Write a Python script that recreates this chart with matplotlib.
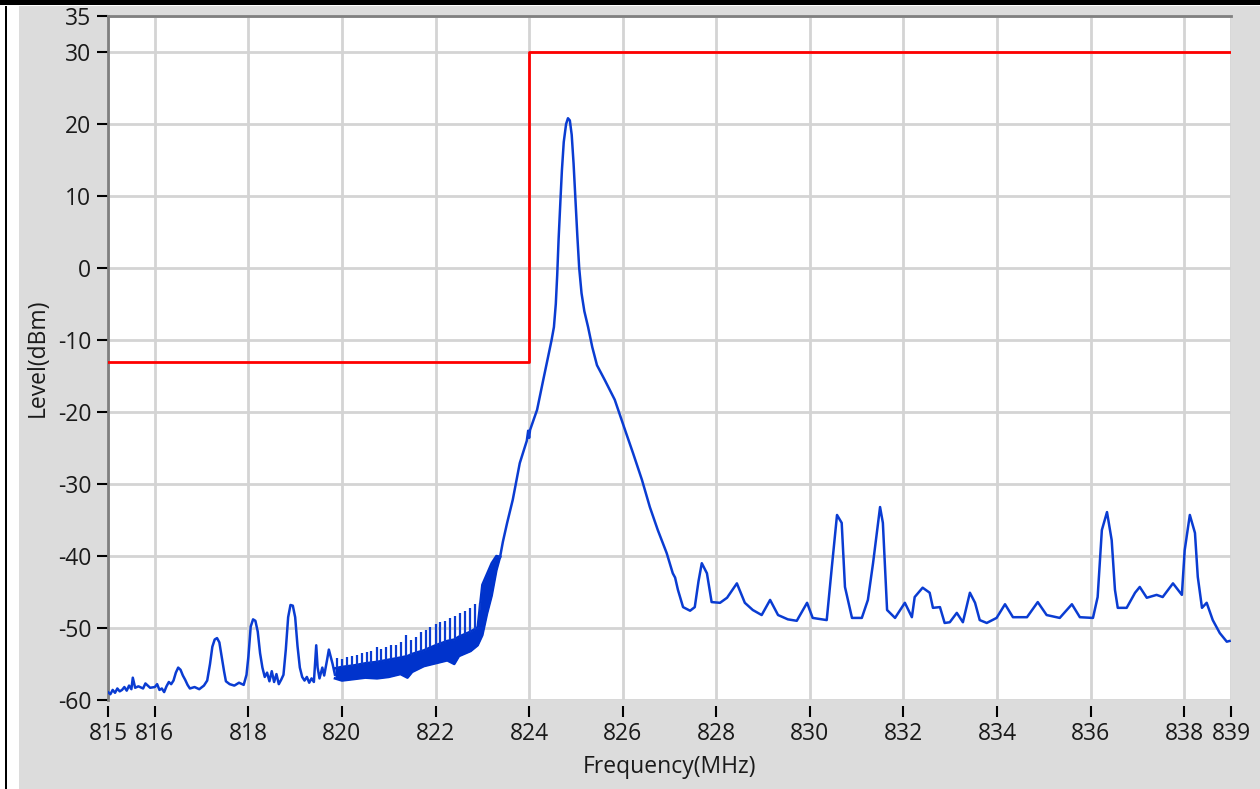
import matplotlib
matplotlib.use("Agg")
import numpy as np
import matplotlib.pyplot as plt
from matplotlib.patches import Rectangle

# limit mask (red)
mask_f = [815, 824, 839]
mask_l = [-13, 30, 30]

# trace left of the comb region (MHz, dBm)
left_f = [815.00, 815.05, 815.10, 815.15, 815.20, 815.25, 815.30, 815.35, 815.40, 815.45,
          815.50, 815.53, 815.58, 815.65, 815.75, 815.80, 815.90, 816.00, 816.05, 816.10,
          816.15, 816.20, 816.25, 816.30, 816.35, 816.40, 816.45, 816.50, 816.55, 816.60,
          816.65, 816.70, 816.75, 816.85, 816.95, 817.05, 817.12, 817.18, 817.23, 817.28,
          817.33, 817.38, 817.43, 817.48, 817.52, 817.60, 817.70, 817.80, 817.90, 817.96,
          818.00, 818.05, 818.10, 818.15, 818.20, 818.25, 818.30, 818.35, 818.40, 818.45,
          818.50, 818.55, 818.60, 818.65, 818.70, 818.75, 818.80, 818.85, 818.90, 818.95,
          819.00, 819.05, 819.10, 819.15, 819.20, 819.25, 819.30, 819.35, 819.40, 819.45,
          819.48, 819.52, 819.58, 819.62, 819.68, 819.72, 819.76, 819.80, 819.85]
left_l = [-58.9, -59.2, -58.6, -59.0, -58.4, -58.8, -58.6, -58.2, -58.7, -58.0,
          -58.5, -56.9, -58.3, -58.1, -58.4, -57.7, -58.3, -58.2, -57.8, -58.6,
          -58.4, -58.9, -58.1, -57.5, -57.8, -57.3, -56.2, -55.5, -55.8, -56.6,
          -57.2, -57.9, -58.4, -58.2, -58.5, -58.0, -57.3, -55.0, -52.6, -51.6,
          -51.4, -52.0, -54.0, -56.0, -57.4, -57.8, -58.0, -57.6, -57.9, -56.5,
          -54.0, -49.8, -48.8, -49.0, -50.5, -53.5, -55.5, -56.8, -56.2, -57.4,
          -56.0, -57.5, -56.4, -57.8, -57.2, -56.5, -53.0, -48.5, -46.8, -46.9,
          -48.5, -52.5, -55.5, -56.8, -57.3, -56.8, -57.6, -57.0, -57.5, -52.4,
          -55.5, -57.0, -55.5, -56.6, -54.5, -53.0, -54.0, -55.0, -56.5]

# dense comb band (bottom / top of the filled area)
band_f = [819.85, 820.0, 820.25, 820.5, 820.75, 821.0, 821.25, 821.4, 821.5, 821.75,
          822.0, 822.25, 822.4, 822.5, 822.75, 822.9, 823.0, 823.1, 823.2, 823.3, 823.38]
band_lo = [-57.0, -57.3, -57.1, -56.9, -57.0, -56.8, -56.4, -56.9, -56.1, -55.3,
           -54.9, -54.5, -55.0, -53.9, -53.2, -52.4, -51.0, -48.0, -45.5, -42.0, -40.1]
band_hi = [-55.6, -55.4, -55.2, -54.9, -54.7, -54.4, -54.1, -53.9, -53.6, -53.1,
           -52.4, -51.8, -51.6, -51.2, -50.5, -49.9, -44.0, -42.5, -41.0, -40.0, -40.1]

# comb spikes
comb_f = [819.90, 820.00, 820.11, 820.21, 820.32, 820.42, 820.53, 820.63, 820.74, 820.84,
          820.95, 821.05, 821.16, 821.26, 821.37, 821.47, 821.58, 821.68, 821.79, 821.89,
          822.00, 822.10, 822.21, 822.31, 822.42, 822.52, 822.63, 822.73, 822.84, 822.94]
comb_top = [-54.2, -54.3, -54.0, -53.9, -53.7, -53.5, -53.3, -53.2, -52.6, -52.9,
            -52.6, -52.4, -52.3, -52.0, -51.0, -51.6, -51.2, -50.6, -50.3, -49.8,
            -49.4, -49.2, -49.0, -48.6, -48.4, -47.9, -47.7, -47.2, -46.6, -46.5]

# trace right of the comb region
right_f = [823.38, 823.44, 823.53, 823.65, 823.80, 823.95, 823.98, 824.00, 824.02, 824.10,
           824.17, 824.30, 824.40, 824.48, 824.53, 824.57, 824.60, 824.63, 824.67, 824.70,
           824.74, 824.79, 824.83, 824.87, 824.91, 824.95, 824.99, 825.03, 825.07, 825.12,
           825.18, 825.26, 825.35, 825.45, 825.62, 825.83, 826.05, 826.22, 826.41, 826.58,
           826.75, 826.94, 827.07, 827.12, 827.18, 827.29, 827.44, 827.54, 827.62, 827.69,
           827.80, 827.90, 828.08, 828.23, 828.44, 828.61, 828.78, 828.97, 829.15, 829.32,
           829.53, 829.72, 829.94, 830.06, 830.36, 830.47, 830.58, 830.68, 830.75, 830.90,
           831.11, 831.24, 831.35, 831.50, 831.56, 831.65, 831.82, 832.03, 832.18, 832.24,
           832.41, 832.56, 832.63, 832.78, 832.88, 832.99, 833.14, 833.27, 833.42, 833.53,
           833.63, 833.78, 833.99, 834.17, 834.34, 834.64, 834.87, 835.06, 835.34, 835.60,
           835.77, 836.05, 836.15, 836.24, 836.35, 836.45, 836.52, 836.58, 836.77, 836.95,
           837.05, 837.20, 837.41, 837.54, 837.76, 837.95, 838.01, 838.12, 838.23, 838.29,
           838.38, 838.48, 838.61, 838.76, 838.91, 838.97]
right_l = [-40.1, -38.0, -35.4, -32.2, -27.1, -24.0, -22.6, -23.6, -22.5, -21.0,
           -19.7, -15.6, -12.5, -10.0, -8.2, -5.0, -1.0, 4.0, 9.5, 13.5,
           17.5, 20.0, 20.8, 20.5, 18.5, 14.5, 9.5, 4.5, 0.0, -3.5,
           -6.0, -8.2, -11.0, -13.5, -15.6, -18.3, -22.5, -25.7, -29.4, -33.2,
           -36.4, -39.6, -42.4, -43.0, -44.7, -47.1, -47.6, -47.1, -43.5, -41.0,
           -42.4, -46.4, -46.5, -45.8, -43.8, -46.5, -47.5, -48.2, -46.1, -48.2,
           -48.8, -49.0, -46.5, -48.6, -48.9, -41.5, -34.3, -35.4, -44.3, -48.6,
           -48.6, -46.1, -41.0, -33.2, -35.4, -47.5, -48.6, -46.5, -48.5, -45.7,
           -44.4, -45.1, -47.2, -47.1, -49.3, -49.2, -47.9, -49.2, -45.1, -46.5,
           -48.9, -49.3, -48.6, -46.7, -48.5, -48.5, -46.4, -48.2, -48.6, -46.7,
           -48.5, -48.6, -45.7, -36.4, -33.9, -37.8, -44.7, -47.2, -47.2, -45.1,
           -44.3, -45.8, -45.4, -45.7, -43.8, -45.4, -39.2, -34.3, -36.8, -42.9,
           -47.2, -46.5, -48.9, -50.7, -51.9, -51.8]

x_ticks = [815, 816, 818, 820, 822, 824, 826, 828, 830, 832, 834, 836, 838, 839]
y_ticks = [-60, -50, -40, -30, -20, -10, 0, 10, 20, 30, 35]

W, H = 1260, 789
plt.rcParams['font.family'] = ['Open Sans', 'DejaVu Sans']
fig = plt.figure(figsize=(W / 100, H / 100), dpi=100, facecolor='#dcdcdc')

# screenshot border
def px_rect(x0, y0, w, h, color):
    fig.add_artist(Rectangle((x0 / W, 1 - (y0 + h) / H), w / W, h / H,
                             transform=fig.transFigure, color=color, lw=0, zorder=-1))

px_rect(0, 0, 19, H, 'white')
px_rect(5, 0, 2, H, 'black')
px_rect(0, 0, W, 6, 'white')
px_rect(0, 0, W, 5, 'black')

ax = fig.add_axes([108 / W, 1 - 700 / H, (1231 - 108) / W, (700 - 16) / H])
ax.set_facecolor('white')

blue = '#0a3cd2'
ax.plot(left_f, left_l, color=blue, lw=1.8, zorder=3)
ax.fill_between(band_f, band_lo, band_hi, color='#0033cc', lw=0, zorder=3)
ax.plot(band_f, band_lo, color='#0033cc', lw=1.8, zorder=3)
ax.plot(band_f, band_hi, color='#0033cc', lw=1.8, zorder=3)
comb_base = np.interp(comb_f, band_f, band_hi)
ax.vlines(comb_f, comb_base, comb_top, color=blue, lw=1.6, zorder=3)
ax.plot(right_f, right_l, color=blue, lw=1.8, zorder=3)

ax.plot(mask_f, mask_l, drawstyle='steps-post', color='#ff0000', lw=2, zorder=4)

ax.set_xlim(815, 839)
ax.set_ylim(-60, 35)
ax.set_xticks(x_ticks)
ax.set_xticklabels([str(v) for v in x_ticks])
ax.set_yticks(y_ticks)
ax.set_yticklabels([str(v) for v in y_ticks])
ax.grid(True, color='#d4d4d4', lw=2, zorder=0)
ax.set_axisbelow(True)

for s in ['right', 'bottom']:
    ax.spines[s].set_visible(False)
ax.spines['bottom'].set_position(('outward', 4))
for s in ['left', 'top']:
    ax.spines[s].set_color('#808080')
    ax.spines[s].set_linewidth(2)

ax.tick_params(axis='both', which='major', direction='out', length=8, width=1.5,
               color='black', labelsize=16.5, labelcolor='#1a1a1a')
ax.tick_params(axis='x', pad=4)
ax.tick_params(axis='y', pad=4)

ax.set_xlabel('Frequency(MHz)', fontsize=16.5, color='#1a1a1a', labelpad=6)
ax.set_ylabel('Level(dBm)', fontsize=16.5, color='#1a1a1a', labelpad=6)

fig.savefig('out.png', dpi=100, facecolor=fig.get_facecolor())
